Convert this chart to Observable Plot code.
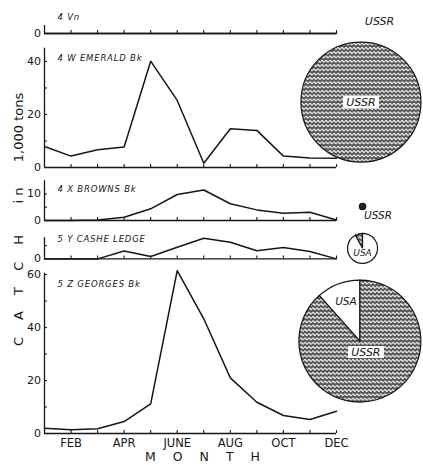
<!DOCTYPE html>
<html><head><meta charset="utf-8">
<script src="https://cdn.jsdelivr.net/npm/d3@7"></script>
<script src="https://cdn.jsdelivr.net/npm/@observablehq/plot@0.6"></script>
<style>
body{margin:0;background:#fff;}
#chart{position:relative;width:423px;height:465px;overflow:hidden;}
#chart svg{position:absolute;left:0;top:0;}
</style></head><body>
<svg width="0" height="0" style="position:absolute">
<defs>
<pattern id="wave" width="4" height="4.3" patternUnits="userSpaceOnUse">
<rect width="4" height="4.3" fill="#505050"/>
<path d="M0,2.15 Q1,0.5 2,2.15 T4,2.15" fill="none" stroke="#f2f2f2" stroke-width="1.3"/>
</pattern>
</defs></svg>
<div id="chart"></div>
<script>
const months = [1,2,3,4,5,6,7,8,9,10,11,12];
const monthTicks = [2,4,6,8,10,12];
const monthLabels = ["FEB","APR","JUNE","AUG","OCT","DEC"];
const panelNames = ["4 Vn","4 W EMERALD Bk","4 X BROWNS Bk","5 Y CASHE LEDGE","5 Z GEORGES Bk"];
const vnCatch = [0,0,0,0,0,0,0,0,0,0,0,0];
const emeraldCatch = [7.9,4.3,6.7,7.7,40.1,25.3,1.6,14.6,14.0,4.3,3.6,3.5];
const brownsCatch = [0,0,0.2,1.2,4.4,9.8,11.5,6.3,4.0,2.7,3.1,0.2];
const casheCatch = [0,0,0,3.0,0.9,4.4,7.8,6.3,3.1,4.3,2.8,0];
const georgesCatch = [2.0,1.4,1.8,4.5,11.2,61.5,43.3,21.0,11.8,6.8,5.3,8.4];
const pieCountries = ["USSR","USA"];
const emeraldShare = [100, 0];
const brownsShare = [100, 0];
const casheShare = [8, 92];
const georgesShare = [88.4, 11.6];
const yTitleParts = ["CATCH","in","1,000 tons"];
const xTitle = "MONTH";

const INK = "#161616";
const countryFill = ["url(#wave)", "#fff"];

function pieMark({shares, lead, cx, cy, r, fills = countryFill, labels = []}) {
  return (index, scales) => {
    const X = scales.x(cx), Y = scales.y(cy);
    const g = d3.create("svg:g").attr("transform", `translate(${X},${Y})`);
    const total = d3.sum(shares);
    const order = [lead, 1 - lead];
    const a0 = -2 * Math.PI * shares[lead] / total;
    const pie = d3.pie().sort(null).value(i => shares[i]).startAngle(a0).endAngle(a0 + 2 * Math.PI);
    const arc = d3.arc().innerRadius(0).outerRadius(r);
    for (const a of pie(order)) {
      if (shares[a.data] <= 0) continue;
      g.append("path").attr("d", arc(a)).attr("fill", fills[a.data])
        .attr("stroke", INK).attr("stroke-width", 1.2);
    }
    for (const l of labels) {
      if (l.box) {
        g.append("rect").attr("x", l.dx - l.box / 2).attr("y", l.dy - 6)
          .attr("width", l.box).attr("height", 12).attr("fill", "#fff");
      }
      g.append("text").attr("x", l.dx).attr("y", l.dy).attr("dy", "0.35em")
        .attr("text-anchor", l.anchor || "middle")
        .attr("font-size", l.size || 11).attr("font-style", "italic")
        .attr("fill", INK).text(l.text);
    }
    return g.node();
  };
}

const titleOpts = {frameAnchor: "top-left", textAnchor: "middle", lineAnchor: "middle", fill: INK};

const panels = [
  {name: panelNames[0], values: vnCatch, domain: [0, 3], range: [33, 25], ticks: [0], minor: [], labelDy: -8,
   extra: [Plot.text([pieCountries[0]], {x: 13.62, y: 4.5, fontSize: 11, fontStyle: "italic", fill: INK})]},
  {name: panelNames[1], values: emeraldCatch, domain: [0, 45], range: [167, 47.7], ticks: [0, 20, 40], minor: [10, 30], labelDy: 9.6,
   extra: [pieMark({shares: emeraldShare, lead: 1, cx: 12.94, cy: 24.5, r: 60,
     labels: [{text: pieCountries[0], dx: 0, dy: 0, box: 36}]})]},
  {name: panelNames[2], values: brownsCatch, domain: [0, 15], range: [220, 180.2], ticks: [0, 10], minor: [5], labelDy: 9,
   extra: [pieMark({shares: brownsShare, lead: 1, cx: 13.0, cy: 5.1, r: 3.2, fills: ["#222", "#fff"],
     labels: [{text: pieCountries[0], dx: 15.5, dy: 8.5, size: 10.5}]})]},
  {name: panelNames[3], values: casheCatch, domain: [0, 8], range: [258.4, 237.2], ticks: [0], minor: [5], labelDy: 2,
   extra: [pieMark({shares: casheShare, lead: 0, cx: 13.0, cy: 3.8, r: 15,
     labels: [{text: pieCountries[1], dx: 0, dy: 5, size: 9}]})]},
  {name: panelNames[4], values: georgesCatch, domain: [0, 60.5], range: [433, 272.7], ticks: [0, 20, 40, 60], minor: [10, 30, 50], labelDy: 11,
   extra: [
     pieMark({shares: georgesShare, lead: 1, cx: 12.9, cy: 34.7, r: 61,
       labels: [{text: pieCountries[1], dx: -14, dy: -40, size: 10.5}, {text: pieCountries[0], dx: 6, dy: 11, box: 36}]}),
     Plot.text(monthTicks, {x: d => d, y: 0, text: (d, i) => monthLabels[i], dy: 9.5, fontSize: 11.5, fill: INK}),
     Plot.text([xTitle], {...titleOpts, dx: 210.5, dy: 456.5, fontSize: 12.5}),
     Plot.text([yTitleParts[0]], {...titleOpts, dx: 18, dy: 281.5, rotate: -90, fontSize: 13}),
     Plot.text([yTitleParts[1]], {...titleOpts, dx: 18, dy: 193, rotate: -90, fontSize: 13}),
     Plot.text([yTitleParts[2]], {...titleOpts, dx: 18, dy: 127, rotate: -90, fontSize: 13})
   ]}
];

const spacing = new Map([
  ...panelNames.map(n => [n, "0.8px"]),
  [xTitle, "17px"], [yTitleParts[0], "17px"], [yTitleParts[1], "4px"]
]);

const chart = document.getElementById("chart");
for (const p of panels) {
  const top = p.domain[1];
  const svg = Plot.plot({
    width: 423, height: 465, margin: 0,
    style: {background: "transparent", overflow: "visible", fontFamily: "DejaVu Sans", color: INK},
    x: {domain: [1, 12], range: [44, 336], axis: null},
    y: {domain: p.domain, range: p.range, axis: null},
    marks: [
      Plot.ruleY([0], {x1: 1, x2: 12, stroke: INK, strokeWidth: 1.3}),
      Plot.ruleX([1], {y1: 0, y2: top, stroke: INK, strokeWidth: 1.3}),
      Plot.ruleX(months.slice(1), {x: d => d, y1: 0, y2: 1.1, stroke: INK, strokeWidth: 1.1}),
      Plot.ruleY(p.ticks.concat(p.minor).filter(d => d > 0), {y: d => d, x1: 1, x2: 1.11, stroke: INK, strokeWidth: 1.1}),
      Plot.text(p.ticks, {x: 1, y: d => d, dx: -3.5, textAnchor: "end", fontSize: 11, fill: INK}),
      Plot.line(p.values, {x: months, y: p.values, stroke: INK, strokeWidth: 1.5}),
      Plot.text([p.name], {x: 1, y: top, dx: 13, dy: p.labelDy, textAnchor: "start", fontSize: 8.5, fontStyle: "italic", fill: INK}),
      ...(p.extra || [])
    ]
  });
  d3.select(svg).selectAll("text").each(function() {
    const ls = spacing.get(this.textContent);
    if (ls) this.style.letterSpacing = ls;
  });
  chart.append(svg);
}
</script>
</body></html>
